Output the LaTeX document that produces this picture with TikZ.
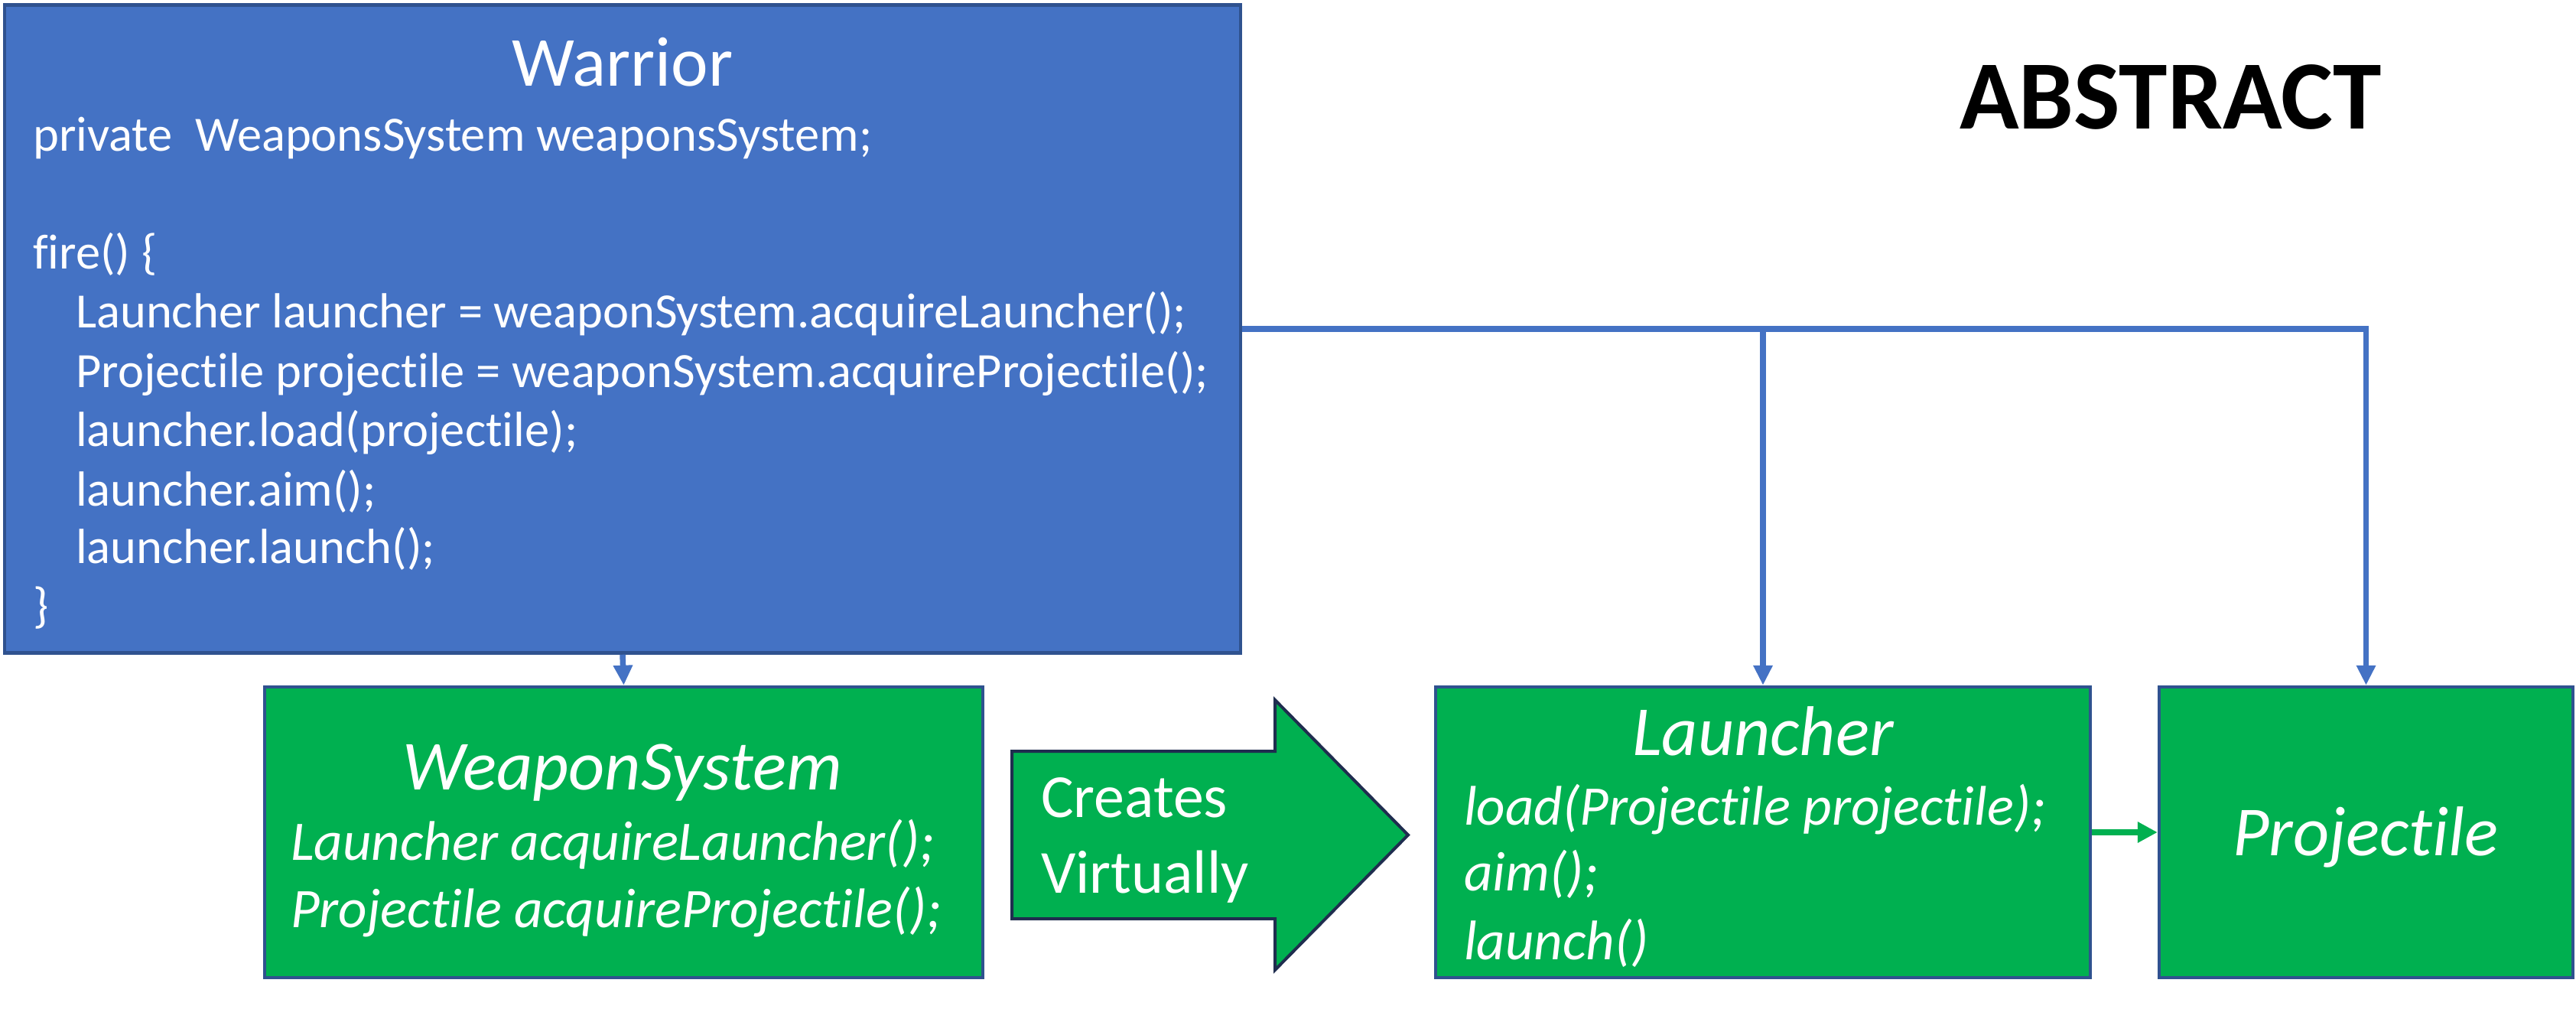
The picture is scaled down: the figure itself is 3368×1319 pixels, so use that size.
\documentclass[tikz,border=0pt]{standalone}
\usepackage{fontspec}
\setmainfont{Carlito}[Ligatures=NoCommon]
\usetikzlibrary{arrows.meta}
\definecolor{wblue}{HTML}{4472C4}
\definecolor{bordblue}{HTML}{2F528F}
\definecolor{wgreen}{HTML}{00B050}
\definecolor{navy}{HTML}{1F2D4F}
\tikzset{
  box/.style={draw=bordblue, line width=4.5pt, inner sep=0pt},
  warriorbox/.style={box, fill=wblue},
  greenbox/.style={box, fill=wgreen},
  codeline/.style={anchor=base west, inner sep=0pt, text=white, font=\fontsize{64.5}{77}\selectfont},
  methline/.style={anchor=base west, inner sep=0pt, text=white, font=\fontsize{73}{88}\selectfont\itshape},
  titletext/.style={anchor=base, inner sep=0pt, text=white, font=\fontsize{92}{110}\selectfont},
  ititle/.style={titletext, font=\fontsize{92}{110}\selectfont\itshape},
  arrowtext/.style={anchor=base west, inner sep=0pt, text=white, font=\fontsize{80}{99}\selectfont},
  bluecon/.style={draw=wblue, line width=7.5pt, -{Triangle[length=26pt,width=24pt]}},
  greencon/.style={draw=wgreen, line width=7.5pt, -{Triangle[length=26pt,width=26pt]}},
  blockarrow/.style={draw=navy, line width=4pt, fill=wgreen, line join=miter},
}
\begin{document}
\begin{tikzpicture}[x=1pt,y=-1pt]
\useasboundingbox (0,0) rectangle (3368,1319);

% boxes
\node[warriorbox, minimum width=1616pt, minimum height=847pt] (warrior) at (814,430) {};
\node[greenbox, minimum width=939pt, minimum height=380pt] (weapon) at (815.5,1088) {};
\node[greenbox, minimum width=856pt, minimum height=380pt] (launcher) at (2305,1088) {};
\node[greenbox, minimum width=541pt, minimum height=380pt] (projectile) at (3093.5,1088) {};

% Warrior text
\node[titletext] (wtitle) at (814,113) {Warrior};
\node[codeline] (w1) at (43,197) {private\ \ WeaponsSystem weaponsSystem;};
\node[codeline] (w2) at (43,351) {fire() \{};
\node[codeline] (w3) at (99,428) {Launcher launcher = weaponSystem.acquireLauncher();};
\node[codeline] (w4) at (99,506) {Projectile projectile = weaponSystem.acquireProjectile();};
\node[codeline] (w5) at (99,583) {launcher.load(projectile);};
\node[codeline] (w6) at (99,661) {launcher.aim();};
\node[codeline] (w7) at (99,736) {launcher.launch();};
\node[codeline] (w8) at (43,813) {\}};

% WeaponSystem text
\node[ititle] (wstitle) at (814,1032) {WeaponSystem};
\node[methline] (ws1) at (380,1124) {Launcher acquireLauncher();};
\node[methline] (ws2) at (380,1212) {Projectile acquireProjectile();};

% block arrow
\draw[blockarrow] (1323,982) -- (1667,982) -- (1667,915) -- (1841,1091.5) -- (1667,1268) -- (1667,1201) -- (1323,1201) -- cycle;
\node[arrowtext] (creates) at (1361,1068) {Creates};
\node[arrowtext] (virtually) at (1361,1167) {Virtually};

% Launcher text
\node[ititle] (ltitle) at (2305,987) {Launcher};
\node[methline] (l1) at (1914,1078) {load(Projectile projectile);};
\node[methline] (l2) at (1914,1164) {aim();};
\node[methline] (l3) at (1914,1254) {launch()};

% Projectile text
\node[ititle] (ptitle) at (3093,1118) {Projectile};

% ABSTRACT
\node[anchor=base, inner sep=0pt, font=\fontsize{128}{150}\selectfont\bfseries] (abstract) at (2838,168) {ABSTRACT};

% connectors
\coordinate (junction) at (launcher.north |- warrior.east);
\draw[bluecon] (warrior.south) -- (weapon.north);
\draw[bluecon] (warrior.east) -| (projectile.north);
\draw[bluecon] (junction) -- (launcher.north);
\draw[greencon] (launcher.east) -- (projectile.west);
\end{tikzpicture}
\end{document}
